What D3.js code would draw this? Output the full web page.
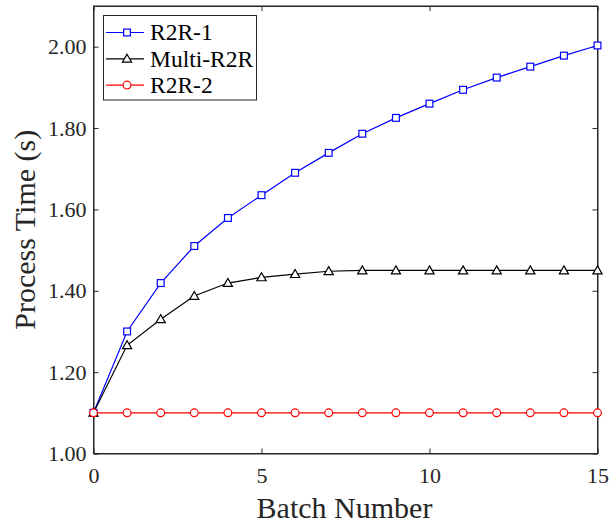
<!DOCTYPE html>
<html><head><meta charset="utf-8">
<script src="https://cdn.jsdelivr.net/npm/d3@7"></script>
<style>body{margin:0;background:#fff}</style>
</head><body>
<svg id="c" width="609" height="527"></svg>
<script>
const batches = d3.range(0, 16);
const r2r1 = [1.10,1.30,1.419,1.51,1.579,1.635,1.69,1.739,1.786,1.825,1.86,1.894,1.924,1.951,1.978,2.003];
const multiR2R = [1.10,1.266,1.33,1.387,1.419,1.433,1.441,1.448,1.45,1.45,1.45,1.45,1.45,1.45,1.45,1.45];
const r2r2 = [1.10,1.10,1.10,1.10,1.10,1.10,1.10,1.10,1.10,1.10,1.10,1.10,1.10,1.10,1.10,1.10];
const yTicks = [1.0,1.2,1.4,1.6,1.8,2.0];
const xTicks = [0,5,10,15];
const seriesNames = ["R2R-1","Multi-R2R","R2R-2"];

const svg = d3.select("#c");
const L=93.5, R=597.5, T=6, B=453.5;
const x = d3.scaleLinear().domain([0,15]).range([L,R]);
const y = d3.scaleLinear().domain([1.0,2.1]).range([B,T]);
const font = "'Liberation Serif','Times New Roman',serif";
const axCol = "#262626";

svg.append("rect").attr("x",L).attr("y",T).attr("width",R-L).attr("height",B-T)
  .attr("fill","none").attr("stroke",axCol).attr("stroke-width",1);

const xb = svg.append("g").attr("transform",`translate(0,${B})`)
  .call(d3.axisBottom(x).tickValues(xTicks).tickSizeInner(-5).tickSizeOuter(0).tickFormat(d3.format("d")));
const xt = svg.append("g").attr("transform",`translate(0,${T})`)
  .call(d3.axisTop(x).tickValues(xTicks).tickSizeInner(-5).tickSizeOuter(0).tickFormat(""));
const yl = svg.append("g").attr("transform",`translate(${L},0)`)
  .call(d3.axisLeft(y).tickValues(yTicks).tickSizeInner(-5).tickSizeOuter(0).tickPadding(8).tickFormat(d3.format(".2f")));
const yr = svg.append("g").attr("transform",`translate(${R},0)`)
  .call(d3.axisRight(y).tickValues(yTicks).tickSizeInner(-5).tickSizeOuter(0).tickFormat(""));
[xb,xt,yl,yr].forEach(g=>{
  g.select(".domain").attr("stroke",axCol);
  g.selectAll(".tick line").attr("stroke",axCol);
  g.selectAll("text").attr("font-family",font).attr("font-size",22).attr("fill",axCol);
});
xb.selectAll("text").attr("y",29).attr("dy",0);
yl.selectAll("text").attr("x",-7);

svg.append("text").attr("x",(L+R)/2 - 1).attr("y",518).attr("text-anchor","middle")
  .attr("font-family",font).attr("font-size",30).attr("fill",axCol).text("Batch Number");
svg.append("text").attr("transform",`translate(34.5,${(T+B)/2}) rotate(-90)`).attr("text-anchor","middle")
  .attr("font-family",font).attr("font-size",30).attr("fill",axCol).text("Process Time (s)");

const line = d3.line().x((d,i)=>x(batches[i])).y(d=>y(d));
const series = [
  {name:seriesNames[0], vals:r2r1, color:"#0000ff", sym:"square"},
  {name:seriesNames[1], vals:multiR2R, color:"#000000", sym:"triangle"},
  {name:seriesNames[2], vals:r2r2, color:"#ff0000", sym:"circle"}
];
function marker(g, cx, cy, s){
  if(s.sym==="square"){
    g.append("rect").attr("x",cx-3.4).attr("y",cy-3.4).attr("width",6.8).attr("height",6.8)
      .attr("fill","#fff").attr("stroke",s.color).attr("stroke-width",1.2);
  } else if(s.sym==="triangle"){
    g.append("path").attr("d",`M${cx},${cy-4.6}L${cx+4.6},${cy+3.4}L${cx-4.6},${cy+3.4}Z`)
      .attr("fill","#fff").attr("stroke",s.color).attr("stroke-width",1.2);
  } else {
    g.append("circle").attr("cx",cx).attr("cy",cy).attr("r",3.9)
      .attr("fill","#fff").attr("stroke",s.color).attr("stroke-width",1.2);
  }
}
series.forEach(s=>{
  const g = svg.append("g");
  g.append("path").datum(s.vals).attr("d",line).attr("fill","none").attr("stroke",s.color).attr("stroke-width",1.2);
  s.vals.forEach((v,i)=>marker(g, x(batches[i]), y(v), s));
});

// legend
const lg = svg.append("g");
lg.append("rect").attr("x",103.5).attr("y",15.5).attr("width",153).attr("height",84.5)
  .attr("fill","#fff").attr("stroke",axCol).attr("stroke-width",1);
series.forEach((s,i)=>{
  const cy = 32.5 + i*26.3;
  lg.append("line").attr("x1",106).attr("x2",144).attr("y1",cy).attr("y2",cy).attr("stroke",s.color).attr("stroke-width",1.2);
  marker(lg, 127, cy, s);
  lg.append("text").attr("x",150).attr("y",cy+7.8).attr("font-family",font)
    .attr("font-size",23.5).attr("fill","#000").text(s.name);
});
</script>
</body></html>
